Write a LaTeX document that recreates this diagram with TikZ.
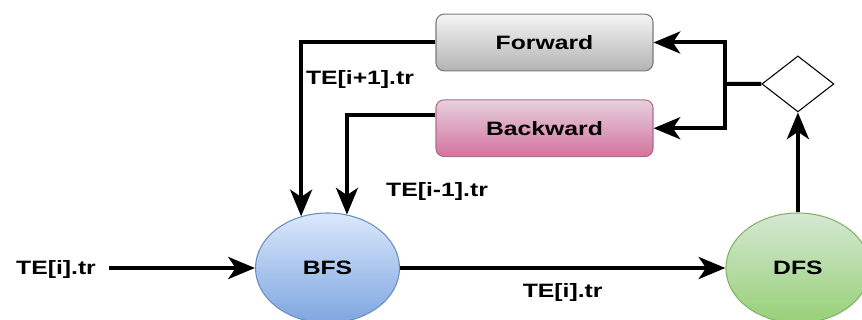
\documentclass[tikz,border=0pt]{standalone}
\usepackage{fontspec}
\setmainfont{Liberation Sans}[FakeStretch=1.28]
\usepackage{xcolor}
\usepackage{tikz}
\usetikzlibrary{arrows.meta,positioning,shapes.geometric}

\definecolor{bfsTop}{HTML}{DAE8FC}
\definecolor{bfsBot}{HTML}{7EA6E0}
\definecolor{bfsLine}{HTML}{6C8EBF}
\definecolor{dfsTop}{HTML}{D5E8D4}
\definecolor{dfsBot}{HTML}{97D077}
\definecolor{dfsLine}{HTML}{82B366}
\definecolor{fwdTop}{HTML}{F5F5F5}
\definecolor{fwdBot}{HTML}{B3B3B3}
\definecolor{fwdLine}{HTML}{7A7A7A}
\definecolor{bwdTop}{HTML}{E6D0DE}
\definecolor{bwdBot}{HTML}{D5739D}
\definecolor{bwdLine}{HTML}{B06A90}

\begin{document}
\begin{tikzpicture}[
  x=0.75pt,y=0.75pt,
  font=\fontsize{14.5}{17}\selectfont\bfseries,
  box/.style={draw,rounded corners=6pt,minimum width=162.75pt,minimum height=42.5pt,inner sep=0pt,line width=0.8pt},
  ell/.style={draw,ellipse,minimum width=108pt,minimum height=82.5pt,inner sep=0pt,line width=0.8pt},
  lbl/.style={inner sep=0pt},
  wire/.style={line width=3pt},
  arr/.style={wire,-{Stealth[length=20pt,width=16.5pt,inset=5.5pt]}}
]
\useasboundingbox (0,0) rectangle (862,320);
\node[ell,top color=bfsTop,bottom color=bfsBot,draw=bfsLine] (bfs) at (327.5,52) {BFS};
\node[ell,top color=dfsTop,bottom color=dfsBot,draw=dfsLine,right=244pt of bfs] (dfs) {DFS};
\node[draw,diamond,minimum width=54pt,minimum height=42pt,inner sep=0pt,line width=0.8pt,above=75pt of dfs] (dec) {};
\node[box,top color=fwdTop,bottom color=fwdBot,draw=fwdLine] (fwd) at (544.5,277.5) {Forward};
\node[box,top color=bwdTop,bottom color=bwdBot,draw=bwdLine,below=21pt of fwd] (bwd) {Backward};
\node[lbl] (tin) at (56,50) {TE[i].tr};
\node[lbl] (lnext) at (360,240) {TE[i+1].tr};
\node[lbl] (lprev) at (437,128) {TE[i-1].tr};
\coordinate (jn) at (725,236);
\draw[arr] ([xshift=9.75pt]tin.east |- bfs) -- (bfs);
\draw[arr] (bfs) -- node[lbl,below=10pt] (lcur) {TE[i].tr} (dfs);
\draw[arr] (dfs) -- (dec);
\draw[wire] (dec) -- (jn);
\draw[arr] (jn) |- (fwd);
\draw[arr] (jn) |- (bwd);
\draw[arr] (fwd) -| (bfs.117);
\draw[arr] ([yshift=9.75pt]bwd.west) -| (bfs.70);
\end{tikzpicture}
\end{document}
